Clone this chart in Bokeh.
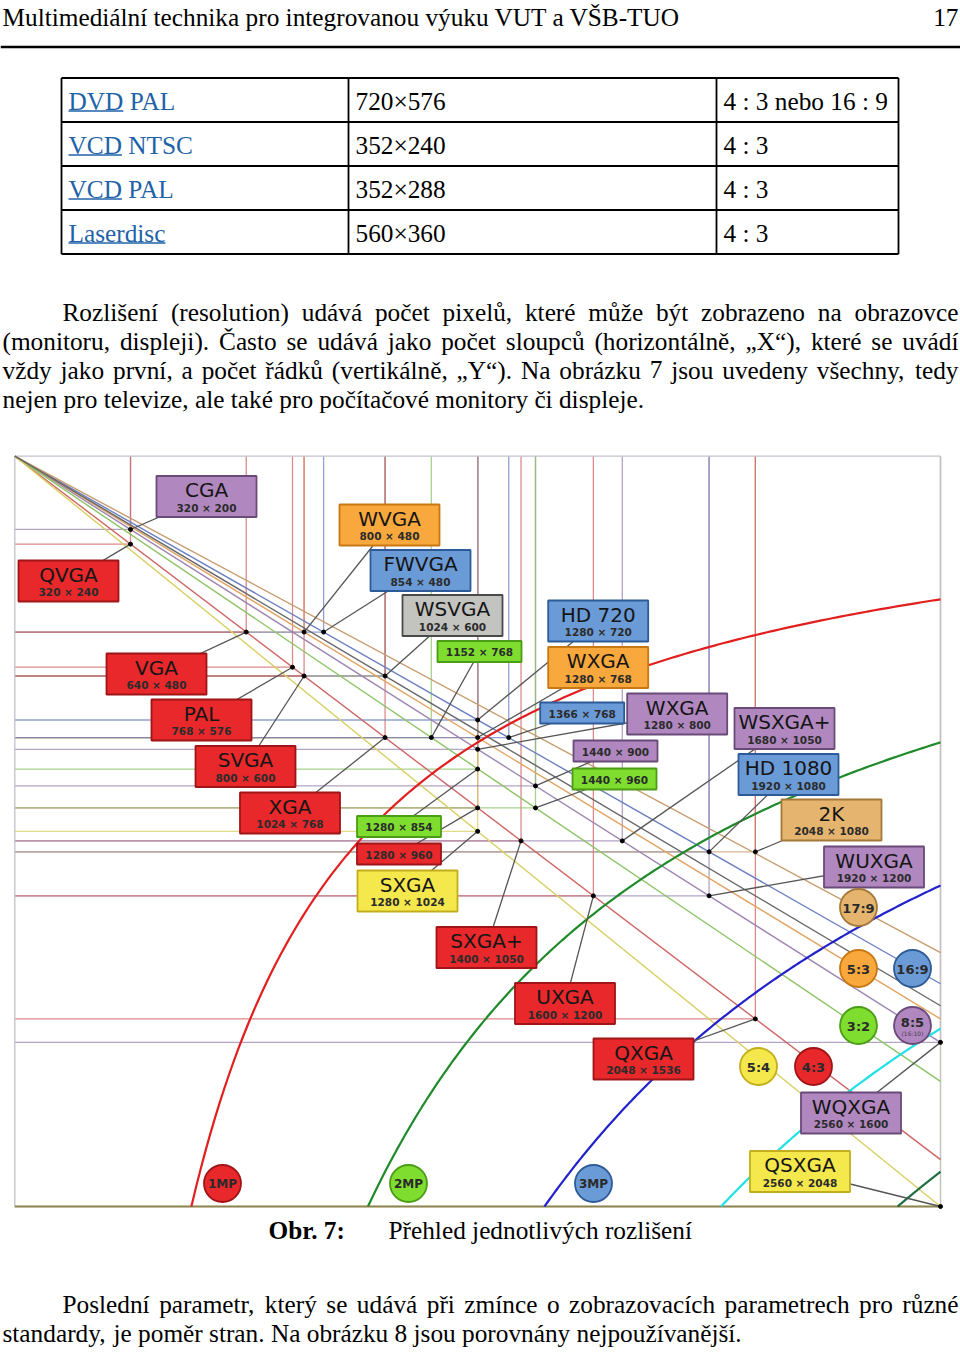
import unicodedata
import numpy as np
from bokeh.plotting import figure
from bokeh.models import Range1d, ColumnDataSource
from bokeh.core.properties import value
from bokeh.embed import file_html
from bokeh.resources import INLINE

# ---------------- data ----------------
res_names = ["CGA", "QVGA", "WVGA", "FWVGA", "WSVGA", "", "VGA", "PAL", "SVGA", "XGA",
             "", "", "SXGA", "SXGA+", "HD 720", "WXGA", "", "WXGA", "", "",
             "WSXGA+", "HD 1080", "2K", "WUXGA", "UXGA", "QXGA", "WQXGA", "QSXGA"]
res_w = [320, 320, 800, 854, 1024, 1152, 640, 768, 800, 1024,
         1280, 1280, 1280, 1400, 1280, 1280, 1366, 1280, 1440, 1440,
         1680, 1920, 2048, 1920, 1600, 2048, 2560, 2560]
res_h = [200, 240, 480, 480, 600, 768, 480, 576, 600, 768,
         854, 960, 1024, 1050, 720, 768, 768, 800, 900, 960,
         1050, 1080, 1080, 1200, 1200, 1536, 1600, 2048]
res_group = ["8:5", "4:3", "5:3", "16:9", "WSVGA", "3:2", "4:3", "4:3", "4:3", "4:3",
             "3:2", "4:3", "5:4", "4:3", "16:9", "5:3", "16:9", "8:5", "8:5", "3:2",
             "8:5", "16:9", "17:9", "8:5", "4:3", "4:3", "8:5", "5:4"]

ratio_groups = ["4:3", "16:9", "8:5", "5:3", "3:2", "5:4", "17:9", "WSVGA"]
ratio_num = [4, 16, 8, 5, 3, 5, 17, 1024]
ratio_den = [3, 9, 5, 3, 2, 4, 9, 600]

aspect_labels = ["17:9", "5:3", "16:9", "3:2", "8:5", "5:4", "4:3"]
megapixels = [1, 2, 3, 4, 5]
mp_labels = ["1MP", "2MP", "3MP"]

table_col1 = ["DVD PAL", "VCD NTSC", "VCD PAL", "Laserdisc"]
table_col2 = ["720×576", "352×240", "352×288", "560×360"]
table_col3 = ["4 : 3 nebo 16 : 9", "4 : 3", "4 : 3", "4 : 3"]

header_text = "Multimediální technika pro integrovanou výuku VUT a VŠB-TUO"
page_number = "17"
para1_lines = [
    "Rozlišení (resolution) udává počet pixelů, které může být zobrazeno na obrazovce",
    "(monitoru, displeji). Často se udává jako počet sloupců (horizontálně, „X“), které se uvádí",
    "vždy jako první, a počet řádků (vertikálně, „Y“). Na obrázku 7 jsou uvedeny všechny, tedy",
    "nejen pro televize, ale také pro počítačové monitory či displeje.",
]
caption_label = "Obr. 7:"
caption_text = "Přehled jednotlivých rozlišení"
para2_lines = [
    "Poslední parametr, který se udává při zmínce o zobrazovacích parametrech pro různé",
    "standardy, je poměr stran. Na obrázku 8 jsou porovnány nejpoužívanější.",
]

# ---------------- layout / style ----------------
W, H = 960, 1353
X0, Y0 = 14.3, 455.7            # pixel position of chart origin (0,0)
SX = (940.0 - X0) / 2560.0      # px per resolution pixel (x)
SY = (1206.0 - Y0) / 2048.0     # px per resolution pixel (y)
BFIX = -8.5                     # renderer baseline correction (px)

# label box centres on the page (px)
label_px_x = [206, 68, 389, 420, 452, 479, 156, 201, 245, 289.5,
              398.5, 398.5, 407, 486, 597.7, 597.7, 581.7, 676.7, 615, 614,
              784, 788, 831, 873.5, 564.5, 643, 850.5, 799.5]
label_px_y = [496, 580.5, 524.5, 570, 615, 651, 673.5, 719.5, 766, 812.5,
              826, 853.5, 890.5, 947, 620.5, 667, 712.5, 713.5, 750.5, 778.5,
              728, 774, 819.5, 866.5, 1003, 1058.5, 1112.5, 1171]
aspect_px = [(858, 907), (858, 968), (912, 968), (858, 1025), (912, 1025), (758, 1066), (813, 1066)]
mp_px = [(222, 1183), (408, 1183), (593, 1183)]

group_fill = {"4:3": "#e8282b", "16:9": "#6b9bd6", "8:5": "#b088bf", "5:3": "#f8a83c",
              "3:2": "#7edd2e", "5:4": "#f5e84c", "17:9": "#e5b56f", "WSVGA": "#c3c3bf"}
group_edge = {"4:3": "#9e1417", "16:9": "#2d5a98", "8:5": "#694a78", "5:3": "#c77812",
              "3:2": "#4b9c16", "5:4": "#c2ae1d", "17:9": "#a47838", "WSVGA": "#4a4a4a"}
group_line = {"4:3": "#cf6464", "16:9": "#6c80c2", "8:5": "#9c84b0", "5:3": "#e2a462",
              "3:2": "#8cc466", "5:4": "#d8cf62", "17:9": "#c69c6e", "WSVGA": "#666666"}
mp_colors = ["#e21f1f", "#1f8a2a", "#2222cc", "#22e0e6", "#1d6e40"]
mp_fill = ["#e8282b", "#7edd2e", "#6b9bd6"]
mp_edge = ["#9e1417", "#4b9c16", "#2d5a98"]

SERIF = value("Liberation Serif")
SANS = value("DejaVu Sans")
FS = 25.3
FSS = value("25.3px")
LINK = "#1f62a8"

TIMES = {" ": 250, "(": 333, ")": 333, ",": 250, ".": 250, ":": 278, "-": 333,
         "„": 444, "“": 444, "×": 564,
         "A": 722, "B": 667, "C": 667, "D": 722, "E": 611, "F": 556, "G": 722, "H": 722,
         "I": 333, "J": 389, "K": 722, "L": 611, "M": 889, "N": 722, "O": 722, "P": 556,
         "Q": 722, "R": 667, "S": 556, "T": 611, "U": 722, "V": 722, "W": 944, "X": 722,
         "Y": 722, "Z": 611,
         "a": 444, "b": 500, "c": 444, "d": 500, "e": 444, "f": 333, "g": 500, "h": 500,
         "i": 278, "j": 278, "k": 500, "l": 278, "m": 778, "n": 500, "o": 500, "p": 500,
         "q": 500, "r": 333, "s": 389, "t": 278, "u": 500, "v": 500, "w": 722, "x": 500,
         "y": 500, "z": 444}


def tw(s):
    tot = 0
    for ch in s:
        if ch in TIMES:
            tot += TIMES[ch]
        else:
            base = unicodedata.normalize("NFD", ch)[0]
            tot += TIMES.get(base, 500)
    return tot / 1000.0 * FS


def place_line(line, left, right, baseline, justify, xs, ys, ts):
    words = line.split(" ")
    widths = [tw(w) for w in words]
    if justify and len(words) > 1:
        gap = (right - left - sum(widths)) / (len(words) - 1)
    else:
        gap = tw(" ")
    x = left
    for w, wd in zip(words, widths):
        xs.append(x)
        ys.append(baseline + BFIX)
        ts.append(w)
        x += wd + gap


def to_dx(px):
    return (px - X0) / SX


def to_dy(py):
    return (py - Y0) / SY


# ---------------- figure ----------------
p = figure(width=W, height=H, output_backend="svg", toolbar_location=None,
           x_range=Range1d(to_dx(0), to_dx(W)), y_range=Range1d(to_dy(H), to_dy(0)),
           x_axis_type=None, y_axis_type=None, min_border=0)
p.outline_line_color = None
p.background_fill_color = "white"
p.border_fill_color = "white"
p.extra_x_ranges = {"px": Range1d(0, W)}
p.extra_y_ranges = {"px": Range1d(H, 0)}
PX = dict(x_range_name="px", y_range_name="px")

# ---------- page text ----------
p.text(x=[2], y=[25 + BFIX], text=[header_text], text_font=SERIF, text_font_size=FSS,
       text_baseline="alphabetic", text_align="left", text_color="black", **PX)
p.text(x=[958], y=[25 + BFIX], text=[page_number], text_font=SERIF, text_font_size=FSS,
       text_baseline="alphabetic", text_align="right", text_color="black", **PX)
p.segment(x0=[0], y0=[46.5], x1=[W], y1=[46.5], line_color="black", line_width=2.7, **PX)

# table
row_top = [77.5, 121.5, 165.5, 209.5, 253.5]
col_x = [61, 348, 716, 898]
p.segment(x0=[col_x[0]] * 5, y0=row_top, x1=[col_x[-1]] * 5, y1=row_top,
          line_color="black", line_width=1.8, **PX)
p.segment(x0=col_x, y0=[row_top[0]] * 4, x1=col_x, y1=[row_top[-1]] * 4,
          line_color="black", line_width=1.8, **PX)
base = [t + 31 for t in row_top[:4]]
tbase = [b + BFIX for b in base]
p.text(x=[68] * 4, y=tbase, text=table_col1, text_font=SERIF, text_font_size=FSS,
       text_baseline="alphabetic", text_color=LINK, **PX)
first = [c.split(" ")[0] for c in table_col1]
p.segment(x0=[68] * 4, y0=[b + 2 for b in base], x1=[68 + tw(f) for f in first],
          y1=[b + 2 for b in base], line_color=LINK, line_width=1.4, **PX)
p.text(x=[355] * 4, y=tbase, text=table_col2, text_font=SERIF, text_font_size=FSS,
       text_baseline="alphabetic", text_color="black", **PX)
p.text(x=[723] * 4, y=tbase, text=table_col3, text_font=SERIF, text_font_size=FSS,
       text_baseline="alphabetic", text_color="black", **PX)

# paragraphs
wx, wy, wt = [], [], []
p1_base = [319.5, 348.5, 377.5, 406.5]
for i, line in enumerate(para1_lines):
    left = 62 if i == 0 else 2
    place_line(line, left, 958, p1_base[i], i < len(para1_lines) - 1, wx, wy, wt)
p2_base = [1312, 1341]
for i, line in enumerate(para2_lines):
    left = 62 if i == 0 else 2
    place_line(line, left, 958, p2_base[i], i < len(para2_lines) - 1, wx, wy, wt)
p.text(x=wx, y=wy, text=wt, text_font=SERIF, text_font_size=FSS,
       text_baseline="alphabetic", text_color="black", **PX)

# caption
p.text(x=[268], y=[1238 + BFIX], text=[caption_label], text_font=SERIF, text_font_size=FSS,
       text_font_style="bold", text_baseline="alphabetic", text_color="black", **PX)
p.text(x=[388], y=[1238 + BFIX], text=[caption_text], text_font=SERIF, text_font_size=FSS,
       text_baseline="alphabetic", text_color="black", **PX)

# ---------- chart (data coordinates) ----------
grid = ColumnDataSource(dict(w=res_w, h=res_h, zero=[0] * len(res_w),
                             col=[group_line[g] for g in res_group]))
p.segment(x0="w", y0="zero", x1="w", y1="h", source=grid, line_color="col",
          line_alpha=0.75, line_width=1.3)
p.segment(x0="zero", y0="h", x1="w", y1="h", source=grid, line_color="col",
          line_alpha=0.75, line_width=1.3)

# frame
p.segment(x0=[0, 0, 2560], y0=[0, 0, 0], x1=[2560, 0, 2560], y1=[0, 2048, 2048],
          line_color="#c4c0cc", line_width=1.3)
p.segment(x0=[0], y0=[2048], x1=[2560], y1=[2048], line_color="#8c8456", line_width=2)

# aspect ratio diagonals
r = np.array(ratio_num, float) / np.array(ratio_den, float)
xe = np.minimum(2560.0, 2048.0 * r)
p.segment(x0=[0] * len(r), y0=[0] * len(r), x1=list(xe), y1=list(xe / r),
          line_color=[group_line[g] for g in ratio_groups], line_alpha=1.0, line_width=1.4)

# megapixel curves
mx, my = [], []
for mp in megapixels:
    k = mp * 1e6
    xs = np.linspace(k / 2048.0, 2560.0, 160)
    mx.append(list(xs))
    my.append(list(k / xs))
p.multi_line(xs=mx, ys=my, line_color=mp_colors, line_width=2.2)

# leaders + points
lx = [to_dx(v) for v in label_px_x]
ly = [to_dy(v) for v in label_px_y]
p.segment(x0=lx, y0=ly, x1=res_w, y1=res_h, line_color="#555555", line_width=1.3)
p.scatter(x=res_w, y=res_h, size=4, color="black")

# label boxes
big = [n != "" for n in res_names]
boxes = ColumnDataSource(dict(
    x=lx, y=ly,
    bw=[100 if b else 84 for b in big], bh=[41 if b else 21 for b in big],
    fill=[group_fill[g] for g in res_group], edge=[group_edge[g] for g in res_group]))
p.rect(x="x", y="y", width="bw", height="bh", width_units="screen", height_units="screen",
       source=boxes, fill_color="fill", line_color="edge", line_width=1.8)

bi = [i for i in range(len(res_names)) if big[i]]
si = [i for i in range(len(res_names)) if not big[i]]
p.text(x=[lx[i] for i in bi], y=[ly[i] for i in bi], text=[res_names[i] for i in bi],
       y_offset=-6.5, text_font=SANS, text_font_size=value("20px"), text_align="center",
       text_baseline="middle", text_color="#151515")
p.text(x=[lx[i] for i in bi], y=[ly[i] for i in bi],
       text=[f"{res_w[i]} × {res_h[i]}" for i in bi],
       y_offset=11, text_font=SANS, text_font_size=value("10.5px"), text_font_style="bold",
       text_align="center", text_baseline="middle", text_color="#2b2b2b")
p.text(x=[lx[i] for i in si], y=[ly[i] for i in si],
       text=[f"{res_w[i]} × {res_h[i]}" for i in si],
       y_offset=0.5, text_font=SANS, text_font_size=value("10.5px"), text_font_style="bold",
       text_align="center", text_baseline="middle", text_color="#2b2b2b")

# aspect-ratio badges
ax = [to_dx(a[0]) for a in aspect_px]
ay = [to_dy(a[1]) for a in aspect_px]
p.scatter(x=ax, y=ay, size=37, fill_color=[group_fill[a] for a in aspect_labels],
          line_color=[group_edge[a] for a in aspect_labels], line_width=1.8)
p.text(x=ax, y=ay, text=aspect_labels, y_offset=[0.5 if a != "8:5" else -3 for a in aspect_labels],
       text_font=SANS, text_font_size=value("13px"), text_font_style="bold",
       text_align="center", text_baseline="middle", text_color="#2a2a2a")
i85 = aspect_labels.index("8:5")
p.text(x=[ax[i85]], y=[ay[i85]], text=["(16:10)"], y_offset=8, text_font=SANS,
       text_font_size=value("6px"), text_align="center", text_baseline="middle",
       text_color="#4a3a55")

# megapixel badges
mpx = [to_dx(a[0]) for a in mp_px]
mpy = [to_dy(a[1]) for a in mp_px]
p.scatter(x=mpx, y=mpy, size=37, fill_color=mp_fill, line_color=mp_edge, line_width=1.8)
p.text(x=mpx, y=mpy, text=mp_labels, y_offset=0.5, text_font=SANS,
       text_font_size=value("12px"), text_font_style="bold", text_align="center",
       text_baseline="middle", text_color="#2a2a2a")

open("out.html", "w").write(file_html(p, INLINE))
